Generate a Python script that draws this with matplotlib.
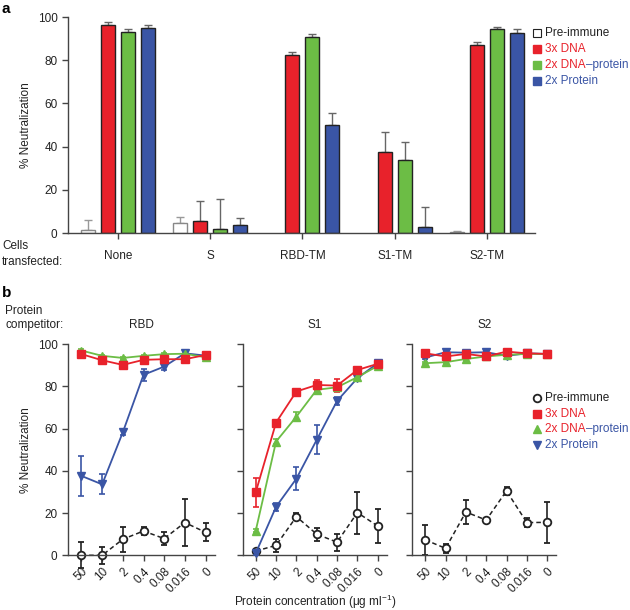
import numpy as np
import matplotlib
matplotlib.use('Agg')
import matplotlib.pyplot as plt
from matplotlib.lines import Line2D

plt.rcParams['font.family'] = ['Liberation Sans', 'DejaVu Sans']
plt.rcParams['mathtext.default'] = 'regular'
plt.rcParams['font.size'] = 8

RED = '#e8222b'
GREEN = '#6cbd45'
BLUE = '#3a55a5'
INK = '#222222'

# ---- panel a data ----
cells = ['None', 'S', 'RBD-TM', 'S1-TM', 'S2-TM']
series_a = ['Pre-immune', '3x DNA', '2x DNA\u2013protein', '2x Protein']
pre_a = [1.2, 4.6, np.nan, np.nan, 0.5]
pre_a_err = [5.0, 2.8, 0.0, 0.0, 0.3]
dna_a = [96.4, 5.4, 82.5, 37.6, 86.9]
dna_a_err = [1.1, 9.6, 1.5, 9.3, 1.5]
mix_a = [93.3, 1.9, 90.9, 33.6, 94.4]
mix_a_err = [1.3, 13.9, 1.2, 8.4, 1.1]
prot_a = [94.9, 3.7, 50.0, 2.9, 92.6]
prot_a_err = [1.4, 3.4, 5.7, 9.3, 1.7]

# ---- panel b data ----
conc = ['50', '10', '2', '0.4', '0.08', '0.016', '0']
competitors = ['RBD', 'S1', 'S2']
pre_b = {
    'RBD': [0.0, 0.0, 7.6, 11.5, 7.9, 15.5, 10.9],
    'S1': [2.0, 4.7, 18.3, 10.0, 6.2, 20.2, 13.9],
    'S2': [7.3, 3.3, 20.5, 16.7, 30.5, 15.5, 15.6],
}
pre_b_err = {
    'RBD': [6.2, 4.0, 6.0, 2.0, 3.0, 11.3, 4.3],
    'S1': [1.0, 3.0, 1.5, 3.0, 4.0, 10.0, 8.0],
    'S2': [7.0, 2.0, 5.7, 0.5, 2.0, 2.0, 9.8],
}
dna_b = {
    'RBD': [95.3, 92.4, 90.2, 92.6, 92.9, 92.9, 94.9],
    'S1': [29.9, 62.9, 77.6, 80.7, 80.4, 87.8, 90.7],
    'S2': [95.7, 94.2, 95.4, 94.2, 96.5, 95.7, 95.4],
}
dna_b_err = {
    'RBD': [0.8, 0.8, 0.8, 0.8, 0.8, 0.8, 0.8],
    'S1': [6.9, 0.8, 0.8, 2.5, 3.0, 1.0, 1.0],
    'S2': [0.8, 0.8, 0.8, 0.8, 0.8, 0.8, 0.8],
}
mix_b = {
    'RBD': [97.0, 94.5, 93.5, 94.5, 95.3, 95.5, 93.8],
    'S1': [11.7, 53.9, 65.7, 78.4, 79.6, 84.4, 89.7],
    'S2': [91.0, 91.5, 93.0, 94.2, 95.0, 95.4, 95.4],
}
mix_b_err = {
    'RBD': [0.5, 0.5, 0.5, 0.5, 0.5, 0.5, 0.5],
    'S1': [0.8, 1.0, 2.0, 1.0, 0.8, 0.8, 0.8],
    'S2': [0.5, 0.5, 0.5, 0.5, 0.5, 0.5, 0.5],
}
prot_b = {
    'RBD': [37.6, 33.6, 58.3, 85.5, 89.4, 95.7, 94.6],
    'S1': [1.0, 23.0, 36.3, 54.7, 73.1, 83.9, 91.0],
    'S2': [93.7, 96.2, 96.0, 96.2, 94.5, 95.7, 95.4],
}
prot_b_err = {
    'RBD': [9.3, 4.7, 1.5, 2.8, 1.5, 1.0, 0.8],
    'S1': [1.0, 2.0, 5.5, 6.9, 2.0, 1.0, 1.0],
    'S2': [0.8, 0.8, 0.8, 0.8, 0.8, 0.8, 0.8],
}


def style_axis(ax):
    for s in ['top', 'right']:
        ax.spines[s].set_visible(False)
    for s in ['left', 'bottom']:
        ax.spines[s].set_color('#444444')
        ax.spines[s].set_linewidth(1.0)
    ax.tick_params(colors='#444444', labelcolor=INK, length=4, width=1.0)


def color_legend(fig, x, y0, dy, handles):
    for i, (mk, kw, parts) in enumerate(handles):
        y = y0 - i * dy
        fig.add_artist(Line2D([x], [y], marker=mk, linestyle='none',
                              transform=fig.transFigure, **kw))
        t = fig.text(x + 0.013, y, parts[0][0], color=parts[0][1],
                     ha='left', va='center', fontsize=8.5)
        for txt, col in parts[1:]:
            t = fig.axes[0].annotate(txt, xy=(1, 0), xycoords=t, ha='left',
                                     va='bottom', color=col, fontsize=8.5,
                                     annotation_clip=False)


fig = plt.figure(figsize=(6.3, 6.1), dpi=100)

# ---------------- panel a ----------------
ax = fig.add_axes([0.108, 0.618, 0.741, 0.354])
x = np.arange(len(cells))
off = 0.217
w = 0.152
bar_sets = [
    (pre_a, pre_a_err, 'white', '#888888'),
    (dna_a, dna_a_err, RED, INK),
    (mix_a, mix_a_err, GREEN, INK),
    (prot_a, prot_a_err, BLUE, INK),
]
for k, (vals, errs, fc, ec) in enumerate(bar_sets):
    pos = x + (k - 1.5) * off
    errs_up = [[0] * len(errs), errs]
    ax.bar(pos, vals, width=w, color=fc, edgecolor=ec, linewidth=1.0,
           zorder=2)
    ax.errorbar(pos, vals, yerr=errs_up, fmt='none',
                ecolor='#666666' if k else '#999999',
                elinewidth=1.0, capsize=3, capthick=1.0, zorder=1)
ax.set_xlim(-0.54, 4.52)
ax.set_ylim(0, 100)
ax.set_yticks([0, 20, 40, 60, 80, 100])
ax.set_xticks(x)
ax.set_xticklabels(cells)
ax.set_ylabel('% Neutralization', color=INK, fontsize=8.5)
style_axis(ax)
ax.tick_params(axis='x', pad=8)
ax.tick_params(labelsize=8.5)
fig.text(0.003, 0.985, 'a', fontsize=11, fontweight='bold', va='center')
fig.text(0.003, 1 - 254 / 610, 'Cells\ntransfected:', fontsize=8.5,
         color=INK, va='center', ha='left', linespacing=1.4)

# ---------------- panel b ----------------
lefts = [0.108, 0.385, 0.654]
widths = [0.233, 0.229, 0.229]
xb = np.arange(len(conc))
for j, comp in enumerate(competitors):
    axb = fig.add_axes([lefts[j], 0.0897, widths[j], 0.346])
    axb.errorbar(xb, pre_b[comp], yerr=pre_b_err[comp], color=INK,
                 linestyle='--', dashes=(3, 2), linewidth=1.1, marker='o',
                 markersize=5.5, markerfacecolor='white',
                 markeredgecolor=INK, markeredgewidth=1.3, elinewidth=1.2,
                 capsize=2.5, capthick=1.2, clip_on=False, zorder=2)
    for vals, errs, col, mk in [(prot_b, prot_b_err, BLUE, 'v'),
                                (mix_b, mix_b_err, GREEN, '^'),
                                (dna_b, dna_b_err, RED, 's')]:
        axb.errorbar(xb, vals[comp], yerr=errs[comp], color=col,
                     linewidth=1.3, marker=mk, markersize=5.5,
                     markerfacecolor=col, markeredgecolor=col,
                     elinewidth=1.2, capsize=2.5, capthick=1.2,
                     clip_on=False, zorder=3)
    axb.set_xlim(-0.65, 6.45)
    axb.set_ylim(0, 100)
    axb.set_yticks([0, 20, 40, 60, 80, 100])
    axb.set_xticks(xb)
    axb.set_xticklabels(conc, rotation=45, ha='right',
                        rotation_mode='anchor')
    style_axis(axb)
    axb.tick_params(labelsize=8.5)
    axb.set_title(comp, fontsize=8.5, color=INK, pad=12)
    if j == 0:
        axb.set_ylabel('% Neutralization', color=INK, fontsize=8.5)
    else:
        axb.set_yticklabels([])

fig.text(0.003, 1 - 293 / 610, 'b', fontsize=11, fontweight='bold',
         va='center')
fig.text(0.008, 1 - 318 / 610, 'Protein\ncompetitor:', fontsize=8.5,
         color=INK, va='center', ha='left', linespacing=1.3)
fig.text(0.5, 1 - 602 / 610, 'Protein concentration (\u03bcg ml$^{-1}$)',
         fontsize=8.5, color=INK, ha='center', va='center')

# legends
sq = dict(markersize=5.5)
color_legend(fig, 536.7 / 630, 1 - 33.3 / 610, 15.9 / 610, [
    ('s', dict(markerfacecolor='white', markeredgecolor=INK,
               markeredgewidth=0.8, **sq), [('Pre-immune', INK)]),
    ('s', dict(markerfacecolor=RED, markeredgecolor=RED, **sq),
     [('3x DNA', RED)]),
    ('s', dict(markerfacecolor=GREEN, markeredgecolor=GREEN, **sq),
     [('2x DNA', RED), ('\u2013protein', BLUE)]),
    ('s', dict(markerfacecolor=BLUE, markeredgecolor=BLUE, **sq),
     [('2x Protein', BLUE)]),
])
color_legend(fig, 536.7 / 630, 1 - 398 / 610, 15.6 / 610, [
    ('o', dict(markerfacecolor='white', markeredgecolor=INK,
               markeredgewidth=1.3, markersize=5.5), [('Pre-immune', INK)]),
    ('s', dict(markerfacecolor=RED, markeredgecolor=RED, **sq),
     [('3x DNA', RED)]),
    ('^', dict(markerfacecolor=GREEN, markeredgecolor=GREEN, **sq),
     [('2x DNA', RED), ('\u2013protein', BLUE)]),
    ('v', dict(markerfacecolor=BLUE, markeredgecolor=BLUE, **sq),
     [('2x Protein', BLUE)]),
])

fig.savefig('out.png', dpi=100)
